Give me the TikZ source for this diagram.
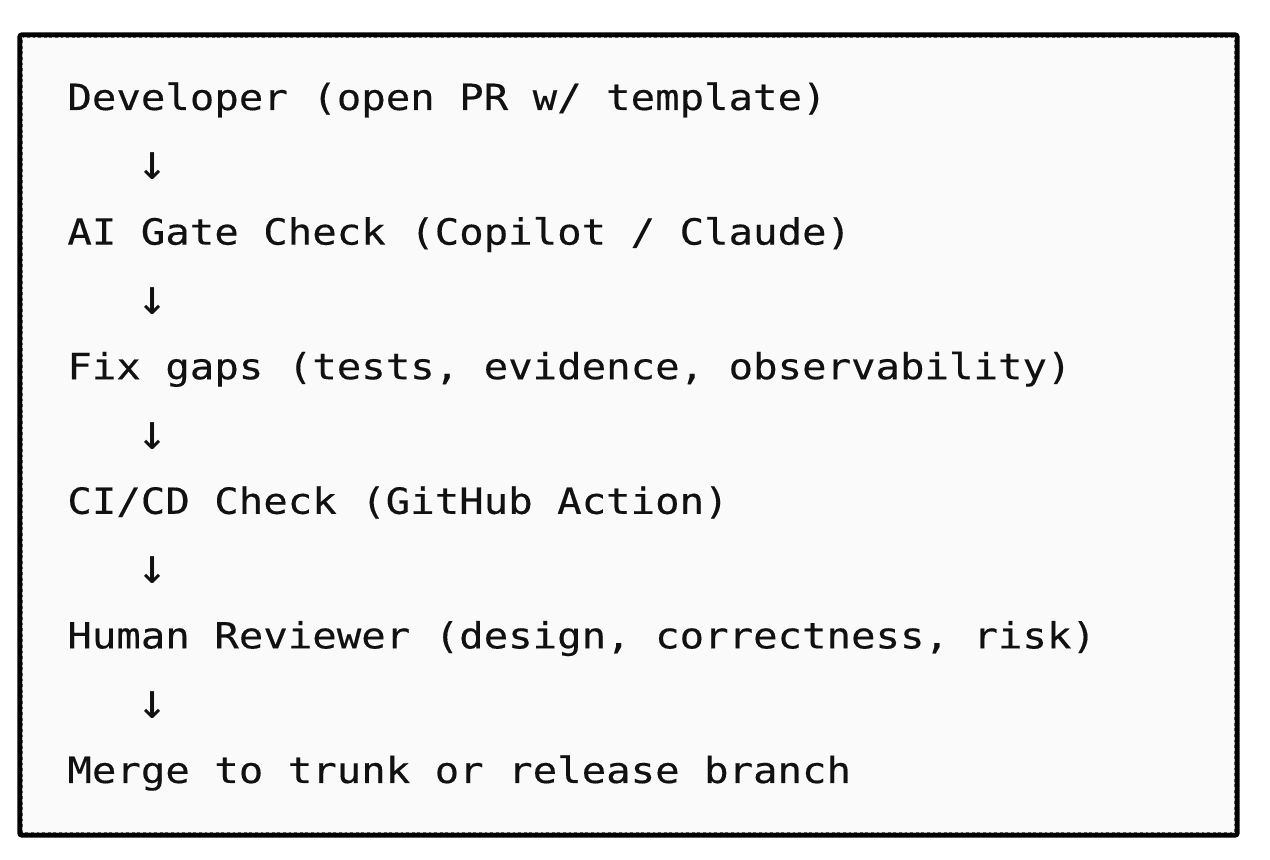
\documentclass[tikz,border=0pt]{standalone}
\usepackage{fontspec}
\usepackage{tikz}
\usetikzlibrary{positioning}
\newfontfamily\flowmono[FakeStretch=1.13,FakeBold=0.35]{DejaVu Sans Mono}
\newfontfamily\arrowmono{DejaVu Sans Mono}
\definecolor{paper}{HTML}{FAFAFA}
\definecolor{ink}{HTML}{111111}
\tikzset{
	steptext/.style={inner sep=0pt, anchor=base west, text=ink, font=\flowmono\fontsize{18}{20}\selectfont},
	downmark/.style={inner sep=0pt, anchor=base, text=ink, font=\arrowmono\fontsize{25}{26}\selectfont},
	frameout/.style={draw=black, line width=2.6pt, fill=paper, rounded corners=1pt},
	framein/.style={draw=white!75!black, line width=0.7pt, dash pattern=on 1.4pt off 1.4pt},
}

\begin{document}
\begin{tikzpicture}[x=0.5pt, y=-0.5pt]
        \useasboundingbox (0,0) rectangle (1270,860);
        \fill[white] (0,0) rectangle (1270,860);
        \draw[frameout] (20,35) rectangle (1237,835);
        \draw[framein] (22.5,37.5) rectangle (1234.5,832.5);

        \node[steptext] (dev) at (67,110) {Developer (open PR w/ template)};
        \node[downmark] (a1) at (153,180) {↓};
        \node[steptext] (gate) at (67,244.6) {AI Gate Check (Copilot / Claude)};
        \node[downmark] (a2) at (153,314.6) {↓};
        \node[steptext] (fix) at (67,379.2) {Fix gaps (tests, evidence, observability)};
        \node[downmark] (a3) at (153,449.2) {↓};
        \node[steptext] (cicd) at (67,513.8) {CI/CD Check (GitHub Action)};
        \node[downmark] (a4) at (153,583.8) {↓};
        \node[steptext] (human) at (67,648.4) {Human Reviewer (design, correctness, risk)};
        \node[downmark] (a5) at (153,718.4) {↓};
        \node[steptext] (merge) at (67,783) {Merge to trunk or release branch};
    \end{tikzpicture}
\end{document}
